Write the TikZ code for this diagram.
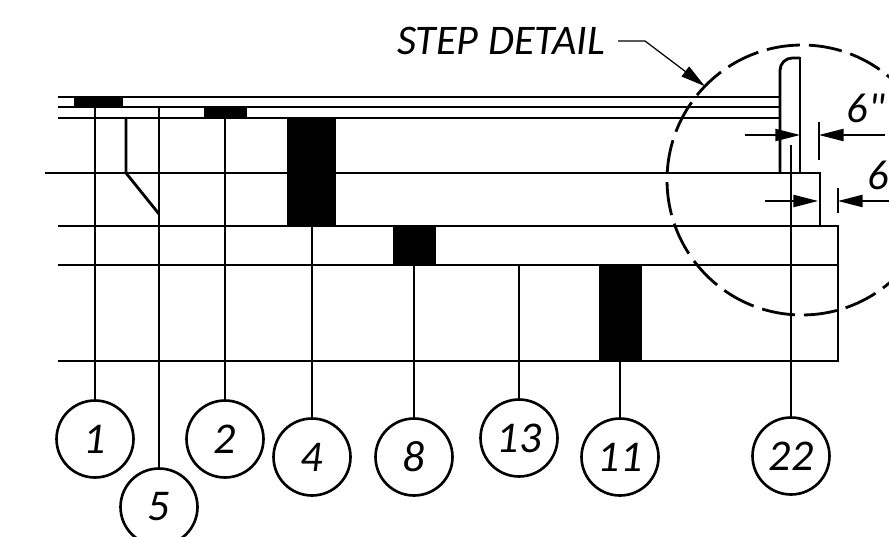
\documentclass[tikz,border=0pt]{standalone}
\usepackage{fontspec}
\newfontfamily\drawfont{Carlito}
\usetikzlibrary{arrows.meta, positioning}

\begin{document}
\begin{tikzpicture}[
        x=0.02cm, y=-0.02cm,
        course/.style={line width=1.6pt},
        block/.style={fill=black},
        leader/.style={line width=1.6pt},
        tag/.style={circle, draw, line width=1.5pt, minimum size=1.54cm, inner sep=0pt, font=\drawfont\fontsize{25}{25}\selectfont\itshape},
        dim_arrow/.style={-{Triangle[length=14pt, width=7pt]}, line width=0.7pt},
        ext_line/.style={line width=0.7pt},
        label_text/.style={inner sep=0pt, font=\drawfont\fontsize{24}{24}\selectfont\itshape}
    ]

    \useasboundingbox (0,0) rectangle (889,537);
    \clip (0,0) rectangle (889,537);

    % --- Courses ---
    \draw[course] (58,97) -- (780,97);
    \draw[course] (58,107) -- (780,107);
    \draw[course] (58,118) -- (780,118);
    \draw[course] (45,173) -- (820,173) -- (820,226);
    \draw[course] (58,226) -- (838,226) -- (838,361) -- (58,361);
    \draw[course] (58,265) -- (838,265);

    % Step nosing
    \draw[course, rounded corners=7pt] (780,173) -- (780,58) -- (800,58);
    \draw[course] (795,58) -- (800,58) -- (800,173);

    % --- Filled blocks ---
    \fill[block] (74,97) rectangle (123,107);
    \fill[block] (204,107) rectangle (247,118);
    \fill[block] (287,118) rectangle (336,226);
    \fill[block] (393,226) rectangle (436,265);
    \fill[block] (599,265) rectangle (642,361);

    % Kicker
    \draw[leader] (126,118) -- (126,173) -- (159,214);

    % --- Tags ---
    \node[tag] (tag_1) at (95,439) {1};
    \node[tag] (tag_5) at (159,507) {5};
    \node[tag] (tag_2) at (225,439) {2};
    \node[tag] (tag_4) at (312,457) {4};
    \node[tag] (tag_8) at (414,457) {8};
    \node[tag] (tag_13) at (519,438) {13};
    \node[tag] (tag_11) at (620,457) {11};
    \node[tag] (tag_22) at (791,456) {22};

    \coordinate (top_1) at (95,107);
    \coordinate (top_5) at (159,107);
    \coordinate (top_2) at (225,118);
    \coordinate (top_4) at (312,226);
    \coordinate (top_8) at (414,265);
    \coordinate (top_13) at (519,265);
    \coordinate (top_11) at (620,361);
    \coordinate (top_22) at (791,145);

    \foreach \n in {1,5,2,4,8,13,11,22} {
        \draw[leader] (top_\n) -- (tag_\n);
    }

    % --- Detail circle ---
    \node[circle, draw, line width=1.6pt, minimum size=5.4cm, inner sep=0pt, outer sep=0pt, dash pattern=on 19pt off 5.13pt, dash phase=22.89pt] (detail) at (802,180) {};

    \node[label_text] (lbl_step) at (501,41) {STEP DETAIL};
    \coordinate (step_start) at (618,41);
    \coordinate (step_bend) at (645,41);
    \draw[dim_arrow] (step_start) -- (step_bend) -- (detail.136);

    % --- Dimensions ---
    \coordinate (dim_a_l) at (745,135);
    \coordinate (dim_a_lt) at (800,135);
    \coordinate (dim_a_r) at (885,135);
    \coordinate (dim_a_rt) at (819,135);
    \draw[dim_arrow] (dim_a_l) -- (dim_a_lt);
    \draw[dim_arrow] (dim_a_r) -- (dim_a_rt);
    \draw[ext_line] (819,122) -- (819,160);
    \node[label_text] (lbl_a) at (866,108) {6"};

    \coordinate (dim_b_l) at (765,201);
    \coordinate (dim_b_lt) at (818,201);
    \coordinate (dim_b_r) at (889,201);
    \coordinate (dim_b_rt) at (838,201);
    \draw[dim_arrow] (dim_b_l) -- (dim_b_lt);
    \draw[dim_arrow] (dim_b_r) -- (dim_b_rt);
    \draw[ext_line] (838,188) -- (838,213);
    \node[label_text, anchor=west] (lbl_b) at (867,175) {6};

\end{tikzpicture}
\end{document}
